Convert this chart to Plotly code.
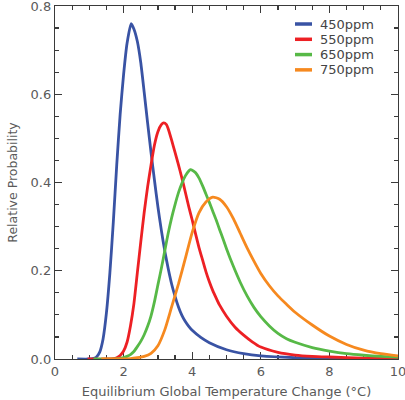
import plotly.graph_objects as go

series_names = ["450ppm", "550ppm", "650ppm", "750ppm"]
series_colors = ["#3953a4", "#ed2024", "#57b947", "#f6891f"]

x_450 = [0.65, 1.0, 1.1, 1.2, 1.3, 1.4, 1.5, 1.6, 1.7, 1.8, 1.9, 2.0, 2.1, 2.22, 2.3, 2.4, 2.5,
         2.6, 2.7, 2.8, 2.9, 3.0, 3.1, 3.2, 3.3, 3.4, 3.5, 3.6, 3.7, 3.8, 3.9, 4.0, 4.25, 4.5,
         5.0, 5.5, 6.0, 7.0, 8.0, 9.0, 10.0]
y_450 = [0.0, 0.0, 0.001, 0.004, 0.015, 0.045, 0.105, 0.195, 0.31, 0.44, 0.555, 0.645, 0.715,
         0.76, 0.748, 0.72, 0.672, 0.605, 0.535, 0.468, 0.405, 0.345, 0.292, 0.245, 0.205, 0.17,
         0.142, 0.118, 0.099, 0.085, 0.074, 0.065, 0.049, 0.037, 0.021, 0.012, 0.007, 0.003,
         0.0015, 0.0008, 0.0005]

x_550 = [0.95, 1.5, 1.7, 1.8, 1.9, 2.0, 2.1, 2.2, 2.3, 2.4, 2.5, 2.6, 2.7, 2.8, 2.9, 3.0, 3.1,
         3.17, 3.25, 3.3, 3.4, 3.5, 3.6, 3.7, 3.8, 3.9, 4.0, 4.1, 4.2, 4.3, 4.4, 4.5, 4.6, 4.7,
         4.8, 5.0, 5.25, 5.5, 5.75, 6.0, 6.5, 7.0, 7.5, 8.0, 9.0, 10.0]
y_550 = [0.0, 0.0, 0.001, 0.003, 0.008, 0.018, 0.038, 0.075, 0.125, 0.195, 0.265, 0.332, 0.39,
         0.44, 0.485, 0.515, 0.531, 0.535, 0.531, 0.522, 0.496, 0.468, 0.44, 0.41, 0.378, 0.345,
         0.315, 0.283, 0.252, 0.225, 0.198, 0.175, 0.155, 0.138, 0.122, 0.097, 0.072, 0.054,
         0.039, 0.027, 0.015, 0.009, 0.006, 0.0045, 0.002, 0.001]

x_650 = [1.12, 1.8, 2.0, 2.1, 2.2, 2.3, 2.4, 2.5, 2.6, 2.7, 2.8, 2.9, 3.0, 3.1, 3.2, 3.3, 3.4,
         3.5, 3.6, 3.7, 3.8, 3.9, 3.95, 4.0, 4.1, 4.2, 4.3, 4.4, 4.5, 4.6, 4.7, 4.8, 4.9, 5.0,
         5.2, 5.4, 5.6, 5.8, 6.0, 6.25, 6.5, 6.75, 7.0, 7.5, 8.0, 8.5, 9.0, 9.5, 10.0]
y_650 = [0.0, 0.0, 0.003, 0.006, 0.01, 0.017, 0.028, 0.04, 0.055, 0.074, 0.098, 0.13, 0.168,
         0.205, 0.245, 0.285, 0.32, 0.35, 0.377, 0.398, 0.415, 0.426, 0.429, 0.428, 0.422, 0.41,
         0.393, 0.374, 0.355, 0.335, 0.315, 0.293, 0.272, 0.25, 0.21, 0.174, 0.143, 0.117,
         0.096, 0.075, 0.058, 0.046, 0.038, 0.026, 0.018, 0.012, 0.0085, 0.006, 0.0045]

x_750 = [1.35, 2.2, 2.4, 2.6, 2.8, 3.0, 3.2, 3.4, 3.6, 3.8, 4.0, 4.2, 4.4, 4.6, 4.8, 5.0, 5.2,
         5.4, 5.6, 5.8, 6.0, 6.25, 6.5, 6.75, 7.0, 7.5, 8.0, 8.5, 9.0, 9.5, 10.0]
y_750 = [0.0, 0.001, 0.003, 0.006, 0.013, 0.03, 0.066, 0.118, 0.17, 0.228, 0.287, 0.332,
         0.356, 0.367, 0.362, 0.345, 0.318, 0.285, 0.252, 0.222, 0.194, 0.166, 0.143, 0.124,
         0.106, 0.077, 0.052, 0.033, 0.02, 0.012, 0.007]

x_ticks = [0, 2, 4, 6, 8, 10]
y_ticks = [0.0, 0.2, 0.4, 0.6, 0.8]

series_x = [x_450, x_550, x_650, x_750]
series_y = [y_450, y_550, y_650, y_750]

FONT = "DejaVu Sans"
TEXT = "#5a5a5a"
AXIS = "#3a3a3a"

fig = go.Figure()
for name, color, xs, ys in zip(series_names, series_colors, series_x, series_y):
    fig.add_trace(go.Scatter(
        x=xs, y=ys, mode="lines", name=name, showlegend=False, hoverinfo="skip",
        line=dict(color=color, width=2.8, shape="spline", smoothing=0.6),
    ))

# hand-drawn legend (short line samples like the original)
leg_x0, leg_x1, leg_tx = 0.6997, 0.7493, 0.7668
leg_y0, leg_dy = 0.949, 0.0433
for i, (name, color) in enumerate(zip(series_names, series_colors)):
    yy = leg_y0 - i * leg_dy
    fig.add_shape(type="line", xref="paper", yref="paper", x0=leg_x0, x1=leg_x1,
                  y0=yy, y1=yy, line=dict(color=color, width=3.5))
    fig.add_annotation(xref="paper", yref="paper", x=leg_tx, y=yy, text=name,
                       showarrow=False, xanchor="left", yanchor="middle",
                       font=dict(family=FONT, size=13, color="#444444"))

axis_common = dict(
    showline=True, linecolor=AXIS, linewidth=1.2, mirror="allticks",
    ticks="inside", ticklen=7, tickwidth=1.2, tickcolor=AXIS,
    showgrid=False, zeroline=False, layer="below traces",
    ticklabeloverflow="allow",
    tickfont=dict(family=FONT, size=13, color=TEXT),
)

fig.update_xaxes(
    range=[0, 10], tickvals=x_ticks, ticktext=[str(v) for v in x_ticks],
    minor=dict(dtick=0.5, ticks="inside", ticklen=4, tickwidth=1.2, tickcolor=AXIS),
    title=dict(text="Equilibrium Global Temperature Change (°C)",
               font=dict(family=FONT, size=13, color=TEXT), standoff=9),
    **axis_common,
)
fig.update_yaxes(
    range=[0, 0.8], tickvals=y_ticks, ticktext=[f"{v:.1f}" for v in y_ticks],
    minor=dict(dtick=0.05, ticks="inside", ticklen=4, tickwidth=1.2, tickcolor=AXIS),
    title=dict(text="Relative Probability",
               font=dict(family=FONT, size=12.5, color=TEXT), standoff=10),
    **axis_common,
)

fig.update_layout(
    width=405, height=400,
    margin=dict(l=55, r=7, t=6, b=41, autoexpand=False),
    paper_bgcolor="white", plot_bgcolor="white",
    showlegend=False,
)

fig.write_html("out.html", config={"displayModeBar": False, "staticPlot": True},
               post_script="document.body.style.margin='0';")
